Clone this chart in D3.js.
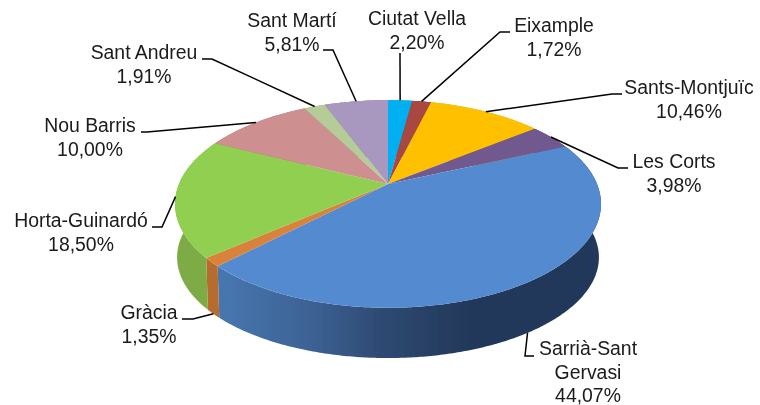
<!DOCTYPE html>
<html>
<head>
<meta charset="utf-8">
<script src="https://cdn.jsdelivr.net/npm/d3@7/dist/d3.min.js"></script>
<style>
  html, body { margin: 0; padding: 0; background: #fff; }
  text { font-family: "Liberation Sans", Arial, sans-serif; font-size: 19.4px; fill: #1a1a1a; }
</style>
</head>
<body>
<svg id="chart" width="760" height="405"></svg>
<script>
var districts = ["Ciutat Vella", "Eixample", "Sants-Montjuïc", "Les Corts", "Sarrià-Sant Gervasi",
                 "Gràcia", "Horta-Guinardó", "Nou Barris", "Sant Andreu", "Sant Martí"];
var shares = [2.20, 1.72, 10.46, 3.98, 44.07, 1.35, 18.50, 10.00, 1.91, 5.81];
var topColors = ["#00b0f0", "#a94643", "#ffc000", "#71588f", "#538ad0",
                 "#d9823b", "#90cf4f", "#cd8f8f", "#b5cc98", "#a898bf"];
var sideColors = ["#0090c4", "#8a3836", "#d09c00", "#5c4875", "url(#blueWall)",
                  "#b56c2f", "#7dab45", "#a87575", "#94a77c", "#897c9c"];

// label placement: centre x, first baseline, elbow and end of the leader line
var labelLines = [["Ciutat Vella"], ["Eixample"], ["Sants-Montjuïc"], ["Les Corts"], ["Sarrià-Sant", "Gervasi"],
                  ["Gràcia"], ["Horta-Guinardó"], ["Nou Barris"], ["Sant Andreu"], ["Sant Martí"]];
var labelX = [417, 554, 689, 674, 588, 149, 81, 90, 144, 292];
var labelY = [25, 32, 94, 168, 355, 319, 227, 132, 59, 27];
var leaderBends = [
  [[400, 53]],
  [[500, 32], [510, 32]],
  [[612, 94], [622, 94]],
  [[618, 168], [628, 168]],
  [[525, 356], [534, 356]],
  [[193, 319], [182, 319]],
  [[162, 227], [152, 227]],
  [[147, 132], [141, 132]],
  [[212, 59], [202, 59]],
  [[333, 50], [323, 50]]
];
// these two leaders start on the lower rim of the side wall
var leaderFromBottom = ["Sarrià-Sant Gervasi", "Gràcia"];

var lineGap = 23.5;

// perspective tilted disc: top face and the smaller bottom face
var topFace = { cx: 388, cy: 184, rx: 209, ry: 100, k: 0.192 };
var bottomFace = { cx: 388, cy: 238, rx: 207, ry: 97, k: 0.192 };

function project(face, angle) {
  var u = Math.sin(angle), v = -Math.cos(angle);
  var w = 1 - face.k * v;
  return [face.cx + face.rx * u / w, face.cy + face.ry * v / w];
}

function arcPoints(face, a0, a1) {
  var n = Math.max(2, Math.ceil((a1 - a0) / 0.01));
  return d3.range(n + 1).map(function(i) {
    return project(face, a0 + (a1 - a0) * i / n);
  });
}

var svg = d3.select("#chart");
var defs = svg.append("defs");

var wallScale = d3.scaleLinear().domain([0, 1]).range([218, 470]);
var grad = defs.append("linearGradient")
  .attr("id", "blueWall")
  .attr("gradientUnits", "userSpaceOnUse")
  .attr("x1", wallScale(0)).attr("x2", wallScale(1))
  .attr("y1", 0).attr("y2", 0);
grad.append("stop").attr("offset", "0%").attr("stop-color", "#4777b0");
grad.append("stop").attr("offset", "35%").attr("stop-color", "#3d6396");
grad.append("stop").attr("offset", "65%").attr("stop-color", "#2e4a72");
grad.append("stop").attr("offset", "100%").attr("stop-color", "#23385a");

defs.append("filter").attr("id", "soft")
  .attr("x", "-5%").attr("y", "-5%").attr("width", "110%").attr("height", "110%")
  .append("feGaussianBlur").attr("stdDeviation", 0.45);

var pie = d3.pie().sort(null).value(function(d) { return d; });
var slices = pie(shares);
var line = d3.line();
var pieLayer = svg.append("g").attr("filter", "url(#soft)");

pieLayer.selectAll("path.wall")
  .data(slices)
  .enter().append("path")
  .attr("class", "wall")
  .attr("fill", function(d, i) { return sideColors[i]; })
  .attr("d", function(d) {
    var pts = arcPoints(topFace, d.startAngle, d.endAngle)
      .concat(arcPoints(bottomFace, d.startAngle, d.endAngle).reverse());
    return line(pts) + "Z";
  });

pieLayer.selectAll("path.top")
  .data(slices)
  .enter().append("path")
  .attr("class", "top")
  .attr("fill", function(d, i) { return topColors[i]; })
  .attr("d", function(d) {
    return line([[topFace.cx, topFace.cy]].concat(arcPoints(topFace, d.startAngle, d.endAngle))) + "Z";
  });

var labelLayer = svg.append("g").attr("filter", "url(#soft)");

labelLayer.selectAll("path.leader")
  .data(slices)
  .enter().append("path")
  .attr("class", "leader")
  .attr("fill", "none")
  .attr("stroke", "#000")
  .attr("stroke-width", 1.5)
  .attr("d", function(d, i) {
    var mid = (d.startAngle + d.endAngle) / 2;
    var face = leaderFromBottom.indexOf(districts[i]) >= 0 ? bottomFace : topFace;
    return line([project(face, mid)].concat(leaderBends[i]));
  });

var labels = labelLayer.selectAll("text.label")
  .data(slices)
  .enter().append("text")
  .attr("class", "label")
  .attr("text-anchor", "middle")
  .attr("y", function(d, i) { return labelY[i]; });

labels.each(function(d, i) {
  var rows = labelLines[i].concat([shares[i].toFixed(2).replace(".", ",") + "%"]);
  d3.select(this).selectAll("tspan")
    .data(rows)
    .enter().append("tspan")
    .attr("x", labelX[i])
    .attr("dy", function(r, j) { return j === 0 ? 0 : lineGap; })
    .text(function(r) { return r; });
});
</script>
</body>
</html>
